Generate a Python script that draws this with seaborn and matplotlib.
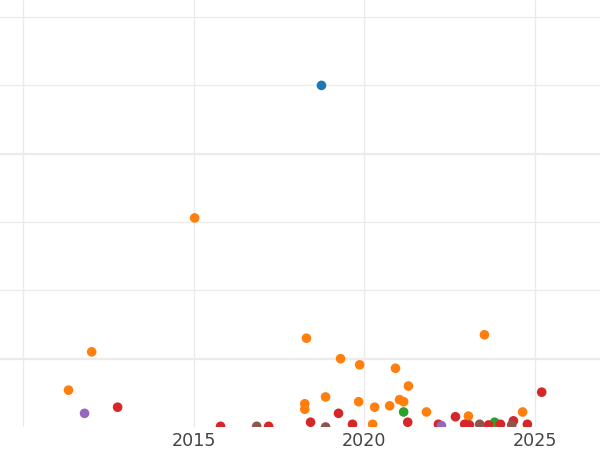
import matplotlib
matplotlib.use("Agg")
import matplotlib.pyplot as plt
import seaborn as sns
import pandas as pd

# ---- data (year as fractional year, value in grid units) ----
blue_x = [2018.75]
blue_y = [5.00]
orange_x = [2015.03, 2018.31, 2023.53, 2012.01, 2019.31, 2019.87, 2020.92, 2011.33,
            2021.30, 2018.87, 2018.26, 2018.26, 2019.84, 2020.31, 2020.75, 2021.04,
            2021.16, 2021.83, 2023.06, 2024.65, 2020.25]
orange_y = [3.06, 1.30, 1.35, 1.10, 1.00, 0.91, 0.86, 0.54,
            0.60, 0.44, 0.34, 0.26, 0.37, 0.29, 0.31, 0.40,
            0.37, 0.22, 0.16, 0.22, 0.04]
green_x = [2021.16, 2023.83]
green_y = [0.22, 0.07]
red_x = [2012.77, 2019.25, 2018.43, 2019.66, 2021.28, 2025.21, 2022.68, 2015.79,
         2017.20, 2022.18, 2022.95, 2023.09, 2023.65, 2024.00, 2024.38, 2024.79]
red_y = [0.29, 0.20, 0.07, 0.04, 0.07, 0.51, 0.15, 0.01,
         0.01, 0.04, 0.04, 0.03, 0.03, 0.04, 0.09, 0.04]
purple_x = [2011.80, 2022.27]
purple_y = [0.20, 0.02]
brown_x = [2016.85, 2018.87, 2023.39, 2024.33]
brown_y = [0.01, 0.00, 0.04, 0.03]

groups = ["A", "B", "C", "D", "E", "F"]
palette = ["#1f77b4", "#ff7f0e", "#2ca02c", "#d62728", "#9467bd", "#8c564b"]
xtick_vals = [2010, 2015, 2020, 2025]
xtick_labels = ["", "2015", "2020", "2025"]

rows = []
for g, xs, ys in zip(groups,
                     [blue_x, orange_x, green_x, red_x, purple_x, brown_x],
                     [blue_y, orange_y, green_y, red_y, purple_y, brown_y]):
    for x, y in zip(xs, ys):
        rows.append({"year": x, "value": y, "group": g})
df = pd.DataFrame(rows)

sns.set_style("white")
fig = plt.figure(figsize=(6, 4.5), dpi=100)
ax = fig.add_axes([0, 23 / 450, 1, 427 / 450])

sns.scatterplot(data=df, x="year", y="value", hue="group", hue_order=groups,
                palette=palette, s=48, linewidth=0, legend=False, ax=ax, zorder=3)

ax.set_xlim(2009.32, 2026.92)
ax.set_ylim(0, 6.25)

ax.set_xticks(xtick_vals)
ax.set_xticklabels(xtick_labels)
ax.set_yticks([1, 4])
ax.set_yticks([2, 3, 5, 6], minor=True)
ax.set_yticklabels([])
ax.tick_params(axis="both", which="both", length=0)
ax.tick_params(axis="x", labelsize=12.6, labelcolor="#444444", pad=3.6)

ax.grid(True, axis="x", which="major", color="#ebebeb", linewidth=1.0)
ax.grid(True, axis="y", which="major", color="#ebebeb", linewidth=1.6)
ax.grid(True, axis="y", which="minor", color="#ebebeb", linewidth=0.9)
ax.set_axisbelow(True)
for s in ax.spines.values():
    s.set_visible(False)
ax.set_xlabel("")
ax.set_ylabel("")

fig.savefig("out.png", dpi=100)
